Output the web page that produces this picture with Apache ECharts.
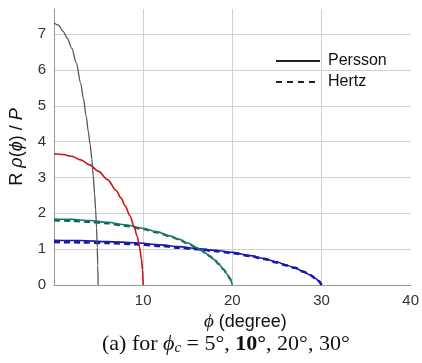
<!DOCTYPE html>
<html>
<head>
<meta charset="utf-8">
<script src="https://cdn.jsdelivr.net/npm/echarts@6/dist/echarts.min.js"></script>
<style>
html,body{margin:0;padding:0;background:#fff;}
#chart{width:422px;height:363px;}
</style>
</head>
<body>
<div id="chart"></div>
<script>
// Persson curves (solid)
const persson5x  = [0, 0.5, 1.0, 1.5, 2.0, 2.5, 3.0, 3.3, 3.6, 3.85, 4.05, 4.25, 4.4, 4.55, 4.67, 4.77, 4.85, 4.91, 4.95];
const persson5y  = [7.31, 7.25, 7.08, 6.88, 6.6, 6.2, 5.62, 5.2, 4.72, 4.28, 3.92, 3.5, 3.05, 2.55, 2.1, 1.6, 1.05, 0.55, 0];
const persson10x = [0, 1, 2, 3, 4, 5, 6, 7, 7.5, 8, 8.5, 9, 9.3, 9.6, 9.8, 9.93, 10];
const persson10y = [3.66, 3.64, 3.59, 3.49, 3.35, 3.17, 2.94, 2.63, 2.43, 2.2, 1.94, 1.62, 1.38, 1.05, 0.73, 0.42, 0];
const persson20x = [0, 2, 4, 6, 8, 10, 11.5, 13, 14, 15, 16, 16.5, 17, 17.5, 18, 18.5, 19, 19.4, 19.7, 20];
const persson20y = [1.84, 1.83, 1.80, 1.75, 1.68, 1.58, 1.49, 1.37, 1.28, 1.17, 1.04, 0.97, 0.89, 0.80, 0.70, 0.58, 0.44, 0.31, 0.19, 0];
const persson30x = [0, 3, 6, 9, 12, 14, 16, 18, 20, 22, 23.5, 25, 26, 27, 28, 28.7, 29.3, 29.7, 30];
const persson30y = [1.25, 1.24, 1.21, 1.18, 1.12, 1.07, 1.02, 0.97, 0.91, 0.82, 0.74, 0.64, 0.56, 0.48, 0.37, 0.28, 0.19, 0.11, 0];
// Hertz curves (dashed)
const hertz20x = [0, 2, 4, 6, 8, 10, 11.5, 13, 14, 15, 16, 16.5, 17, 17.5, 18, 18.5, 19, 19.4, 19.7, 20];
const hertz20y = [1.80, 1.79, 1.76, 1.72, 1.65, 1.56, 1.47, 1.36, 1.27, 1.16, 1.04, 0.97, 0.89, 0.80, 0.70, 0.58, 0.44, 0.31, 0.19, 0];
const hertz30x = [0, 3, 6, 9, 12, 14, 16, 18, 20, 22, 23.5, 25, 26, 27, 28, 28.7, 29.3, 29.7, 30];
const hertz30y = [1.20, 1.19, 1.17, 1.14, 1.09, 1.04, 1.0, 0.95, 0.89, 0.81, 0.73, 0.63, 0.55, 0.48, 0.37, 0.28, 0.19, 0.11, 0];

const xTicks = [0, 10, 20, 30, 40];
const yTicks = [0, 1, 2, 3, 4, 5, 6, 7];

function pairs(xs, ys) { return xs.map((x, i) => [x, ys[i]]); }

const chart = echarts.init(document.getElementById('chart'), null, {renderer: 'canvas'});
const base = {type: 'line', symbol: 'none', showSymbol: false, smooth: 0.3, smoothMonotone: 'x', silent: true, z: 3};

chart.setOption({
  animation: false,
  backgroundColor: '#fff',
  grid: {left: 53, right: 9, top: 9, bottom: 78, containLabel: false},
  legend: {
    data: ['Persson', 'Hertz'],
    orient: 'vertical',
    left: 270, top: 48,
    itemWidth: 44, itemHeight: 14, itemGap: 5,
    selectedMode: false,
    itemStyle: {opacity: 0},
    textStyle: {fontFamily: 'Liberation Sans, Arial, sans-serif', fontSize: 16, color: '#111', padding: [0, 0, 0, 3]}
  },
  xAxis: {
    type: 'value', min: xTicks[0], max: xTicks[xTicks.length - 1], interval: 10,
    name: '{i|ϕ}{t| (degree)}', nameLocation: 'middle', nameGap: 17,
    nameTextStyle: {
      padding: [0, 0, 0, 26],
      rich: {
        i: {fontFamily: 'Liberation Serif, Times New Roman, serif', fontStyle: 'italic', fontSize: 19, color: '#111'},
        t: {fontFamily: 'Liberation Sans, Arial, sans-serif', fontSize: 18, color: '#111'}
      }
    },
    axisLine: {show: true, onZero: false, lineStyle: {color: '#999', width: 1}},
    axisTick: {show: false},
    axisLabel: {showMinLabel: false, margin: 8, fontFamily: 'Liberation Sans, Arial, sans-serif', fontSize: 15, color: '#333'},
    splitLine: {show: true, showMinLine: false, showMaxLine: false, lineStyle: {color: '#d0d0d0', width: 1}}
  },
  yAxis: {
    type: 'value', min: 0, max: 7.7, interval: 1,
    name: '{t|R }{i|ρ}{t|(}{i|ϕ}{t|) / }{i|P}', nameLocation: 'middle', nameGap: 28, nameRotate: 90,
    nameTextStyle: {
      rich: {
        i: {fontFamily: 'Liberation Sans, Arial, sans-serif', fontStyle: 'italic', fontSize: 18, color: '#111'},
        t: {fontFamily: 'Liberation Sans, Arial, sans-serif', fontSize: 18, color: '#111'}
      }
    },
    axisLine: {show: true, lineStyle: {color: '#999', width: 1}},
    axisTick: {show: false},
    axisLabel: {
      showMaxLabel: false, margin: 8,
      formatter: v => (yTicks.indexOf(v) >= 0 ? String(v) : ''),
      fontFamily: 'Liberation Sans, Arial, sans-serif', fontSize: 15, color: '#333'
    },
    splitLine: {show: true, showMinLine: false, showMaxLine: false, lineStyle: {color: '#d0d0d0', width: 1}}
  },
  series: [
    Object.assign({}, base, {name: 'Persson', data: [], lineStyle: {color: '#222', width: 1.3}, itemStyle: {color: '#222'}}),
    Object.assign({}, base, {name: 'Hertz', data: [], lineStyle: {color: '#222', width: 1.3, type: [6, 5]}, itemStyle: {color: '#222'}}),
    Object.assign({}, base, {name: 'h30', data: pairs(hertz30x, hertz30y), lineStyle: {color: '#1a1a99', width: 2.6, type: [6, 4]}}),
    Object.assign({}, base, {name: 'h20', data: pairs(hertz20x, hertz20y), lineStyle: {color: '#0d5e52', width: 2.2, type: [6, 4]}}),
    Object.assign({}, base, {name: 'p30', data: pairs(persson30x, persson30y), lineStyle: {color: '#1818b4', width: 1.6}}),
    Object.assign({}, base, {name: 'p20', data: pairs(persson20x, persson20y), lineStyle: {color: '#167a6c', width: 1.6}}),
    Object.assign({}, base, {name: 'p10', data: pairs(persson10x, persson10y), lineStyle: {color: '#d01212', width: 1.6}}),
    Object.assign({}, base, {name: 'p5', data: pairs(persson5x, persson5y), lineStyle: {color: '#555', width: 1.3}})
  ],
  graphic: [{
    type: 'text', left: 102, top: 333,
    style: {
      text: '{t|(a) for }{i|ϕ}{s|c}{t| = 5°, }{b|10°}{t|, 20°, 30°}',
      rich: {
        t: {fontFamily: 'Liberation Serif, Times New Roman, serif', fontSize: 22, fill: '#111'},
        i: {fontFamily: 'Liberation Serif, Times New Roman, serif', fontStyle: 'italic', fontSize: 22, fill: '#111'},
        s: {fontFamily: 'Liberation Serif, Times New Roman, serif', fontStyle: 'italic', fontSize: 15, fill: '#111', verticalAlign: 'bottom', padding: [9, 0, 0, 0]},
        b: {fontFamily: 'Liberation Serif, Times New Roman, serif', fontWeight: 'bold', fontSize: 22, fill: '#111'}
      }
    }
  }]
});
</script>
</body>
</html>
